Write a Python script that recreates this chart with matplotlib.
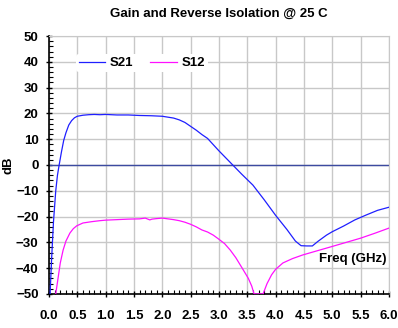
import matplotlib.pyplot as plt
from matplotlib.ticker import MultipleLocator

plt.rcParams["font.family"] = ["Liberation Sans", "DejaVu Sans"]
plt.rcParams["font.weight"] = "bold"

# S21 gain (dB) vs frequency (GHz)
s21_freq = [0.02, 0.05, 0.08, 0.12, 0.15, 0.18, 0.22, 0.26, 0.3, 0.35, 0.4, 0.45, 0.5,
            0.6, 0.7, 0.8, 0.9, 1.0, 1.2, 1.4, 1.6, 1.8, 2.0, 2.2, 2.3, 2.4, 2.5,
            2.6, 2.7, 2.8, 3.0, 3.2, 3.4, 3.6, 3.8, 4.0, 4.2, 4.35, 4.45, 4.55,
            4.65, 4.75, 4.9, 5.0, 5.2, 5.4, 5.6, 5.8, 6.0]
s21_db = [-50, -35, -22, -10, -4, 0, 5, 9.5, 12.5, 15.5, 17.2, 18.3, 18.9,
          19.3, 19.5, 19.6, 19.5, 19.6, 19.4, 19.4, 19.2, 19.1, 18.9, 18.2, 17.5, 16.5, 15.0,
          13.5, 11.8, 10.3, 5.5, 1.0, -3.5, -7.8, -13.5, -19.5, -25.0, -29.5, -31.3, -31.4,
          -31.4, -29.6, -27.2, -25.9, -23.7, -21.3, -19.4, -17.6, -16.4]

# S12 reverse isolation (dB) vs frequency (GHz)
s12_freq = [0.12, 0.16, 0.2, 0.25, 0.3, 0.37, 0.43, 0.49, 0.6, 0.75, 0.9, 1.0, 1.2,
            1.4, 1.6, 1.7, 1.78, 1.82, 1.9, 2.0, 2.1, 2.2, 2.3, 2.4, 2.5, 2.6, 2.7, 2.8,
            2.9, 3.0, 3.1, 3.2, 3.3, 3.43, 3.52, 3.58, 3.62,
            3.78, 3.85, 3.93, 4.0, 4.13, 4.3, 4.48, 4.7, 5.0, 5.25, 5.5, 5.75, 6.0]
s12_db = [-50, -44, -38, -33, -29.5, -26.4, -24.7, -23.6, -22.5, -22.0, -21.6, -21.4, -21.2,
          -21.0, -20.9, -20.6, -21.3, -21.0, -20.8, -20.6, -20.9, -21.2, -21.6, -22.2, -23.0, -24.0, -25.2, -26.0,
          -27.2, -28.8, -30.5, -33.0, -36.0, -40.7, -44.0, -47.0, -50,
          -50, -46.0, -42.6, -40.5, -38.0, -36.3, -34.9, -33.5, -31.6, -30.0, -28.4, -26.5, -24.5]

freq_ticks = [0.0, 0.5, 1.0, 1.5, 2.0, 2.5, 3.0, 3.5, 4.0, 4.5, 5.0, 5.5, 6.0]
db_ticks = [-50, -40, -30, -20, -10, 0, 10, 20, 30, 40, 50]

fig = plt.figure(figsize=(3.98, 3.28), dpi=100)
ax = fig.add_axes([0.123, 0.104, 0.854, 0.786])

ax.axhline(0, color="#3c4aa0", lw=1.0, zorder=2)
ax.plot(s21_freq, s21_db, color="#1f1fff", lw=0.9, label="S21", zorder=3)
ax.plot(s12_freq, s12_db, color="#ff10ff", lw=0.9, label="S12", zorder=3)

ax.set_xlim(0, 6)
ax.set_ylim(-50, 50)
ax.set_xticks(freq_ticks)
ax.set_xticklabels([f"{t:.1f}" for t in freq_ticks])
ax.set_yticks(db_ticks)
ax.xaxis.set_minor_locator(MultipleLocator(0.1))
ax.yaxis.set_minor_locator(MultipleLocator(2))
ax.grid(True, which="major", color="#c8c8c8", lw=1.0)
ax.set_axisbelow(True)

ax.tick_params(which="major", direction="inout", length=5, width=1, labelsize=9.5, pad=5)
ax.tick_params(which="minor", direction="in", length=3, width=0.8)
ax.tick_params(axis="x", pad=9)
for side in ("top", "right"):
    ax.spines[side].set_color("#c8c8c8")
for side in ("left", "bottom"):
    ax.spines[side].set_linewidth(1.2)

ax.set_ylabel("dB", fontsize=9.5, fontweight="bold", labelpad=1)
ax.set_title("Gain and Reverse Isolation @ 25 C", fontsize=9.5, fontweight="bold", pad=14)
ax.text(5.95, -36.5, "Freq (GHz)", ha="right", va="center", fontsize=9.5, fontweight="bold")

leg = ax.legend(loc="center left", bbox_to_anchor=(0.08, 0.895), ncol=2, frameon=True,
                fontsize=9.5, handlelength=2.0, columnspacing=1.3, handletextpad=0.35,
                borderpad=0.2, borderaxespad=0)
leg.get_frame().set_edgecolor("none")
leg.get_frame().set_facecolor("white")
leg.get_frame().set_alpha(1)

fig.savefig("out.png", dpi=100)
